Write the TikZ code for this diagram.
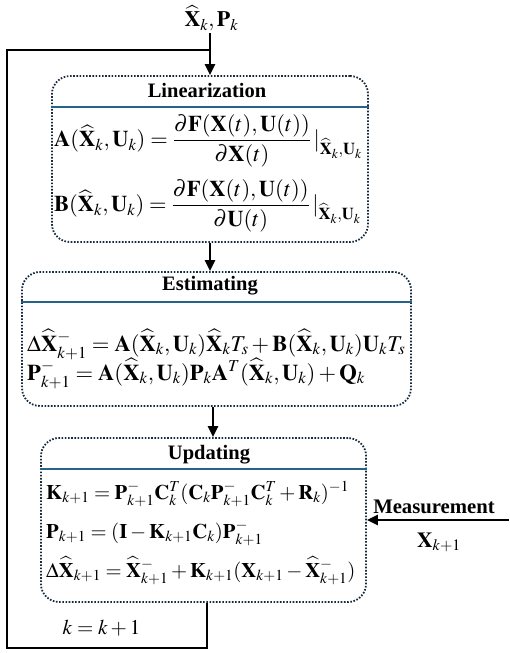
\documentclass[tikz,border=0pt]{standalone}
\usepackage{amsmath}
\usepackage{mathptmx}
\usepackage{fontspec}
\setmainfont{Liberation Serif}
\usetikzlibrary{arrows.meta,calc}
\definecolor{dotnavy}{RGB}{22,42,62}
\definecolor{headblue}{RGB}{38,100,135}
\tikzset{
  stagebox/.style={draw=dotnavy,line width=1.8pt,dash pattern=on 1.6pt off 1.6pt,rounded corners=18pt,inner sep=0pt},
  headline/.style={draw=headblue,line width=2.2pt},
  headtext/.style={font=\fontsize{20.5}{24}\selectfont\bfseries,inner sep=0pt,anchor=base},
  eqn/.style={inner sep=0pt,anchor=base west},
  lineq/.style={eqn,font=\fontsize{22.5}{26}\selectfont},
  esteq/.style={eqn,font=\fontsize{22.6}{26}\selectfont},
  updeq/.style={eqn,font=\fontsize{20.7}{24}\selectfont},
  flow/.style={draw=black,line width=2.6pt,-{Triangle[length=11pt,width=10pt]}},
  loopline/.style={draw=black,line width=2.8pt}
}
\begin{document}
\begin{tikzpicture}[x=1pt,y=-1pt]
\useasboundingbox (0,0) rectangle (509,653);
% boxes
\node[stagebox,minimum width=316pt,minimum height=166pt] (lin) at (210,159) {};
\node[stagebox,minimum width=389pt,minimum height=134pt] (est) at (216.5,339) {};
\node[stagebox,minimum width=325pt,minimum height=164pt] (upd) at (203.5,520) {};
% header lines
\draw[headline] ($(lin.north west)+(0,32)$) -- ($(lin.north east)+(0,32)$);
\draw[headline] ($(est.north west)+(0,30.5)$) -- ($(est.north east)+(0,30.5)$);
\draw[headline] ($(upd.north west)+(0,32)$) -- ($(upd.north east)+(0,32)$);
% headers
\node[headtext] (linh) at (207,97) {Linearization};
\node[headtext] (esth) at (210,290.5) {Estimating};
\node[headtext] (updh) at (209,459) {Updating};
% equations
\node[lineq] (l1) at (54,146.5) {$\mathbf{A}(\widehat{\mathbf{X}}_k,\mathbf{U}_k)=\dfrac{\partial\mathbf{F}(\mathbf{X}(t),\mathbf{U}(t))}{\partial\mathbf{X}(t)}\,|_{\widehat{\mathbf{X}}_k,\mathbf{U}_k}$};
\node[lineq] (l2) at (54,211.5) {$\mathbf{B}(\widehat{\mathbf{X}}_k,\mathbf{U}_k)=\dfrac{\partial\mathbf{F}(\mathbf{X}(t),\mathbf{U}(t))}{\partial\mathbf{U}(t)}\,|_{\widehat{\mathbf{X}}_k,\mathbf{U}_k}$};
\node[esteq] (e1) at (27,351) {$\Delta\widehat{\mathbf{X}}^{-}_{k+1}=\mathbf{A}(\widehat{\mathbf{X}}_k,\mathbf{U}_k)\widehat{\mathbf{X}}_kT_s+\mathbf{B}(\widehat{\mathbf{X}}_k,\mathbf{U}_k)\mathbf{U}_kT_s$};
\node[esteq] (e2) at (27,380) {$\mathbf{P}^{-}_{k+1}=\mathbf{A}(\widehat{\mathbf{X}}_k,\mathbf{U}_k)\mathbf{P}_k\mathbf{A}^T(\widehat{\mathbf{X}}_k,\mathbf{U}_k)+\mathbf{Q}_k$};
\node[updeq] (u1) at (46,499) {$\mathbf{K}_{k+1}=\mathbf{P}^{-}_{k+1}\mathbf{C}^T_k(\mathbf{C}_k\mathbf{P}^{-}_{k+1}\mathbf{C}^T_k+\mathbf{R}_k)^{-1}$};
\node[updeq] (u2) at (46,538) {$\mathbf{P}_{k+1}=(\mathbf{I}-\mathbf{K}_{k+1}\mathbf{C}_k)\mathbf{P}^{-}_{k+1}$};
\node[updeq] (u3) at (46,577) {$\Delta\widehat{\mathbf{X}}_{k+1}=\widehat{\mathbf{X}}^{-}_{k+1}+\mathbf{K}_{k+1}(\mathbf{X}_{k+1}-\widehat{\mathbf{X}}^{-}_{k+1})$};
% top input
\node[eqn,anchor=base,font=\fontsize{22}{26}\selectfont] (top) at (211.5,27) {$\widehat{\mathbf{X}}_k,\mathbf{P}_k$};
\coordinate (j) at (209,50);
\coordinate (bl) at (7,648);
\draw[flow] (lin.north |- 0,33) -- (lin.north);
\draw[flow] (lin.south) -- (lin.south |- est.north);
\draw[flow] ([xshift=-3.5pt]est.south) -- ([xshift=-3.5pt]est.south |- upd.north);
% feedback loop
\draw[loopline] ([xshift=3.5pt]upd.south) |- (bl) |- (j);
\node[eqn,anchor=base,font=\fontsize{21}{24}\selectfont] (kk) at (101.5,634) {$k=k+1$};
% measurement
\node[headtext,font=\fontsize{20.7}{24}\selectfont\bfseries] (meas) at (434,513) {Measurement};
\node[eqn,anchor=base,font=\fontsize{21.5}{24}\selectfont] (xm) at (439,547) {$\mathbf{X}_{k+1}$};
\coordinate (m) at (509,520);
\draw[flow] (m) -- (m -| upd.east);
\end{tikzpicture}
\end{document}
